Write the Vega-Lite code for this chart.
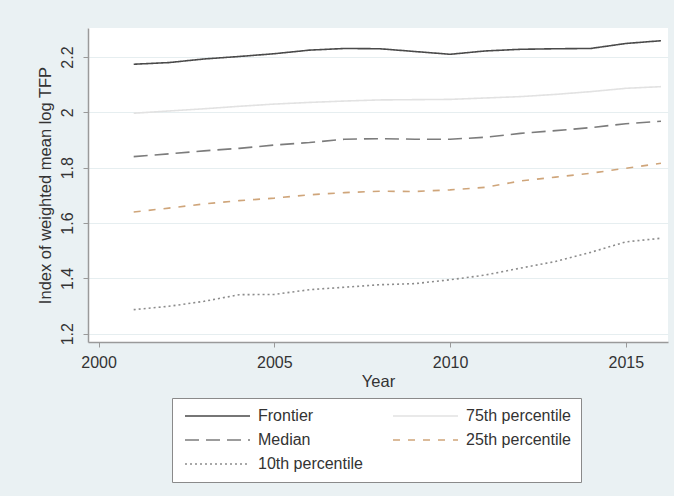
{
  "$schema": "https://vega.github.io/schema/vega-lite/v6.json",
  "width": 580,
  "height": 314,
  "autosize": {"type": "none"},
  "padding": {"left": 88, "top": 28, "right": 6, "bottom": 154},
  "background": "#eaf1f3",
  "config": {
    "font": "Liberation Sans",
    "view": {"fill": "white", "stroke": null},
    "axis": {
      "labelFont": "Liberation Sans",
      "titleFont": "Liberation Sans",
      "labelFontSize": 16,
      "titleFontSize": 16.5,
      "titleFontWeight": "normal",
      "labelColor": "#333333",
      "titleColor": "#333333",
      "domainColor": "#9a9a9a",
      "tickColor": "#9a9a9a",
      "domainWidth": 1.5,
      "tickSize": 5
    },
    "legend": {
      "labelFont": "Liberation Sans",
      "labelFontSize": 16,
      "labelColor": "#333333"
    }
  },
  "data": {
    "values": [
      {"year": 2001, "series": "Frontier", "tfp": 2.174},
      {"year": 2002, "series": "Frontier", "tfp": 2.180},
      {"year": 2003, "series": "Frontier", "tfp": 2.193},
      {"year": 2004, "series": "Frontier", "tfp": 2.202},
      {"year": 2005, "series": "Frontier", "tfp": 2.212},
      {"year": 2006, "series": "Frontier", "tfp": 2.225},
      {"year": 2007, "series": "Frontier", "tfp": 2.231},
      {"year": 2008, "series": "Frontier", "tfp": 2.230},
      {"year": 2009, "series": "Frontier", "tfp": 2.220},
      {"year": 2010, "series": "Frontier", "tfp": 2.210},
      {"year": 2011, "series": "Frontier", "tfp": 2.222},
      {"year": 2012, "series": "Frontier", "tfp": 2.228},
      {"year": 2013, "series": "Frontier", "tfp": 2.230},
      {"year": 2014, "series": "Frontier", "tfp": 2.231},
      {"year": 2015, "series": "Frontier", "tfp": 2.249},
      {"year": 2016, "series": "Frontier", "tfp": 2.259},

      {"year": 2001, "series": "75th percentile", "tfp": 1.997},
      {"year": 2002, "series": "75th percentile", "tfp": 2.005},
      {"year": 2003, "series": "75th percentile", "tfp": 2.013},
      {"year": 2004, "series": "75th percentile", "tfp": 2.022},
      {"year": 2005, "series": "75th percentile", "tfp": 2.030},
      {"year": 2006, "series": "75th percentile", "tfp": 2.036},
      {"year": 2007, "series": "75th percentile", "tfp": 2.041},
      {"year": 2008, "series": "75th percentile", "tfp": 2.045},
      {"year": 2009, "series": "75th percentile", "tfp": 2.046},
      {"year": 2010, "series": "75th percentile", "tfp": 2.047},
      {"year": 2011, "series": "75th percentile", "tfp": 2.052},
      {"year": 2012, "series": "75th percentile", "tfp": 2.057},
      {"year": 2013, "series": "75th percentile", "tfp": 2.065},
      {"year": 2014, "series": "75th percentile", "tfp": 2.075},
      {"year": 2015, "series": "75th percentile", "tfp": 2.087},
      {"year": 2016, "series": "75th percentile", "tfp": 2.093},

      {"year": 2001, "series": "Median", "tfp": 1.840},
      {"year": 2002, "series": "Median", "tfp": 1.850},
      {"year": 2003, "series": "Median", "tfp": 1.861},
      {"year": 2004, "series": "Median", "tfp": 1.870},
      {"year": 2005, "series": "Median", "tfp": 1.882},
      {"year": 2006, "series": "Median", "tfp": 1.891},
      {"year": 2007, "series": "Median", "tfp": 1.903},
      {"year": 2008, "series": "Median", "tfp": 1.905},
      {"year": 2009, "series": "Median", "tfp": 1.903},
      {"year": 2010, "series": "Median", "tfp": 1.903},
      {"year": 2011, "series": "Median", "tfp": 1.910},
      {"year": 2012, "series": "Median", "tfp": 1.924},
      {"year": 2013, "series": "Median", "tfp": 1.934},
      {"year": 2014, "series": "Median", "tfp": 1.945},
      {"year": 2015, "series": "Median", "tfp": 1.959},
      {"year": 2016, "series": "Median", "tfp": 1.968},

      {"year": 2001, "series": "25th percentile", "tfp": 1.640},
      {"year": 2002, "series": "25th percentile", "tfp": 1.654},
      {"year": 2003, "series": "25th percentile", "tfp": 1.669},
      {"year": 2004, "series": "25th percentile", "tfp": 1.681},
      {"year": 2005, "series": "25th percentile", "tfp": 1.690},
      {"year": 2006, "series": "25th percentile", "tfp": 1.702},
      {"year": 2007, "series": "25th percentile", "tfp": 1.710},
      {"year": 2008, "series": "25th percentile", "tfp": 1.715},
      {"year": 2009, "series": "25th percentile", "tfp": 1.714},
      {"year": 2010, "series": "25th percentile", "tfp": 1.720},
      {"year": 2011, "series": "25th percentile", "tfp": 1.729},
      {"year": 2012, "series": "25th percentile", "tfp": 1.752},
      {"year": 2013, "series": "25th percentile", "tfp": 1.766},
      {"year": 2014, "series": "25th percentile", "tfp": 1.780},
      {"year": 2015, "series": "25th percentile", "tfp": 1.798},
      {"year": 2016, "series": "25th percentile", "tfp": 1.816},

      {"year": 2001, "series": "10th percentile", "tfp": 1.287},
      {"year": 2002, "series": "10th percentile", "tfp": 1.299},
      {"year": 2003, "series": "10th percentile", "tfp": 1.317},
      {"year": 2004, "series": "10th percentile", "tfp": 1.341},
      {"year": 2005, "series": "10th percentile", "tfp": 1.342},
      {"year": 2006, "series": "10th percentile", "tfp": 1.359},
      {"year": 2007, "series": "10th percentile", "tfp": 1.368},
      {"year": 2008, "series": "10th percentile", "tfp": 1.377},
      {"year": 2009, "series": "10th percentile", "tfp": 1.381},
      {"year": 2010, "series": "10th percentile", "tfp": 1.395},
      {"year": 2011, "series": "10th percentile", "tfp": 1.412},
      {"year": 2012, "series": "10th percentile", "tfp": 1.437},
      {"year": 2013, "series": "10th percentile", "tfp": 1.461},
      {"year": 2014, "series": "10th percentile", "tfp": 1.494},
      {"year": 2015, "series": "10th percentile", "tfp": 1.532},
      {"year": 2016, "series": "10th percentile", "tfp": 1.545}
    ]
  },
  "mark": {"type": "line", "strokeWidth": 1.6},
  "encoding": {
    "x": {
      "field": "year",
      "type": "quantitative",
      "scale": {"domain": [1999.7, 2016.2], "nice": false, "zero": false},
      "axis": {
        "title": "Year",
        "values": [2000, 2005, 2010, 2015],
        "format": "d",
        "grid": false,
        "labelPadding": 7,
        "titlePadding": 3,
        "labelFlush": false
      }
    },
    "y": {
      "field": "tfp",
      "type": "quantitative",
      "scale": {"domain": [1.17, 2.305], "nice": false, "zero": false},
      "axis": {
        "title": "Index of weighted mean log TFP",
        "values": [1.2, 1.4, 1.6, 1.8, 2, 2.2],
        "format": ".2~f",
        "labelAngle": 270,
        "labelAlign": "center",
        "labelBaseline": "bottom",
        "labelPadding": 8,
        "titlePadding": 6,
        "grid": true,
        "gridColor": "#e6eef0",
        "gridWidth": 1
      }
    },
    "color": {
      "field": "series",
      "type": "nominal",
      "sort": ["Frontier", "Median", "10th percentile", "75th percentile", "25th percentile"],
      "scale": {
        "domain": ["Frontier", "Median", "10th percentile", "75th percentile", "25th percentile"],
        "range": ["#4a4a4a", "#7c7c7c", "#8c8c8c", "#e2e2e2", "#cfa57a"]
      },
      "legend": {
        "title": null,
        "orient": "none",
        "legendX": 84,
        "legendY": 370,
        "columns": 2,
        "columnPadding": 26,
        "rowPadding": 8,
        "padding": 10,
        "symbolType": "M-1,0H12",
        "symbolSize": 100,
        "symbolStrokeWidth": 1.6,
        "labelOffset": 60,
        "strokeColor": "#8a8a8a",
        "fillColor": "white"
      }
    },
    "strokeDash": {
      "field": "series",
      "type": "nominal",
      "sort": ["Frontier", "Median", "10th percentile", "75th percentile", "25th percentile"],
      "scale": {
        "domain": ["Frontier", "Median", "10th percentile", "75th percentile", "25th percentile"],
        "range": [[1, 0], [14, 7], [2, 3], [1, 0], [7, 8]]
      },
      "legend": null
    }
  }
}
